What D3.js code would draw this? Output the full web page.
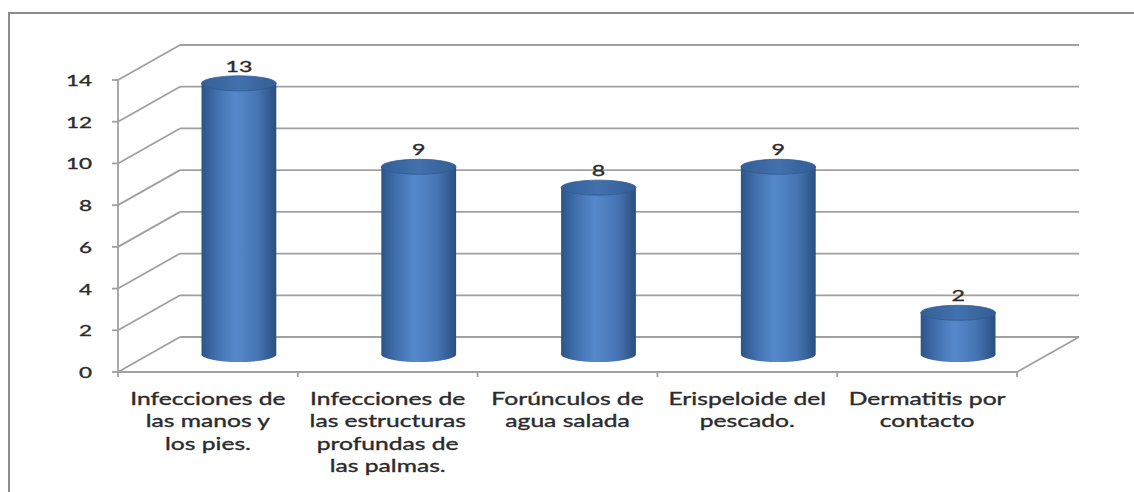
<!DOCTYPE html>
<html>
<head>
<meta charset="utf-8">
<script src="https://cdn.jsdelivr.net/npm/d3@7/dist/d3.min.js"></script>
<style>
  body { margin: 0; background: #fff; }
  svg { display: block; }
  text { font-family: Lato, 'Open Sans', sans-serif; fill: #2b2b2b; stroke: #2b2b2b; stroke-width: 0.35px; }
</style>
</head>
<body>
<svg id="chart"></svg>
<script>
// chart data
const categories = [
  ["Infecciones de", "las manos y", "los pies."],
  ["Infecciones de", "las estructuras", "profundas de", "las palmas."],
  ["Forúnculos de", "agua salada"],
  ["Erispeloide del", "pescado."],
  ["Dermatitis por", "contacto"]
];
const values = [13, 9, 8, 9, 2];
const yTicks = [0, 2, 4, 6, 8, 10, 12, 14];

const width = 1134, height = 492;
const depthX = 62, depthY = -35;   // 3d offset of the back wall
const stretch = 1.45;              // text in the picture is widened
const gridColor = "#a0a0a0";
const gridWidth = 1.8;

const svg = d3.select("#chart")
  .attr("width", width)
  .attr("height", height);

// gradient for the cylinder body
const defs = svg.append("defs");
const grad = defs.append("linearGradient")
  .attr("id", "cyl")
  .attr("x1", "0%").attr("x2", "100%").attr("y1", "0%").attr("y2", "0%");
grad.append("stop").attr("offset", "0%").attr("stop-color", "#2c5488");
grad.append("stop").attr("offset", "18%").attr("stop-color", "#3f6dab");
grad.append("stop").attr("offset", "45%").attr("stop-color", "#5689cc");
grad.append("stop").attr("offset", "75%").attr("stop-color", "#4674b3");
grad.append("stop").attr("offset", "100%").attr("stop-color", "#2a4f80");

const topGrad = defs.append("linearGradient")
  .attr("id", "cyltop")
  .attr("x1", "0%").attr("x2", "100%").attr("y1", "0%").attr("y2", "0%");
topGrad.append("stop").attr("offset", "0%").attr("stop-color", "#345f98");
topGrad.append("stop").attr("offset", "50%").attr("stop-color", "#4271ad");
topGrad.append("stop").attr("offset", "100%").attr("stop-color", "#335d95");

// outer frame (runs off the right and bottom edges)
svg.append("rect")
  .attr("x", 9).attr("y", 13)
  .attr("width", 1300).attr("height", 700)
  .attr("fill", "none")
  .attr("stroke", "#8c8c8c")
  .attr("stroke-width", 2);

// scales
const x = d3.scaleBand()
  .domain(d3.range(categories.length))
  .range([118, 1017])
  .padding(0);

const y = d3.scaleLinear()
  .domain([0, 14])
  .range([372, 80]);

const x0 = x.range()[0], x1 = x.range()[1];

// side wall diagonals
svg.append("g").selectAll("line")
  .data(yTicks)
  .enter()
  .append("line")
  .attr("x1", x0).attr("y1", d => y(d))
  .attr("x2", x0 + depthX).attr("y2", d => y(d) + depthY)
  .attr("stroke", gridColor)
  .attr("stroke-width", gridWidth);

// back wall gridlines
svg.append("g").selectAll("line")
  .data(yTicks)
  .enter()
  .append("line")
  .attr("x1", x0 + depthX).attr("y1", d => y(d) + depthY)
  .attr("x2", x1 + depthX).attr("y2", d => y(d) + depthY)
  .attr("stroke", gridColor)
  .attr("stroke-width", gridWidth);

// floor front edge and right edge
svg.append("line")
  .attr("x1", x0).attr("y1", y(0))
  .attr("x2", x1).attr("y2", y(0))
  .attr("stroke", gridColor).attr("stroke-width", gridWidth);
svg.append("line")
  .attr("x1", x1).attr("y1", y(0))
  .attr("x2", x1 + depthX).attr("y2", y(0) + depthY)
  .attr("stroke", gridColor).attr("stroke-width", gridWidth);

// front y axis
svg.append("line")
  .attr("x1", x0).attr("y1", y(14))
  .attr("x2", x0).attr("y2", y(0))
  .attr("stroke", gridColor).attr("stroke-width", gridWidth);

svg.append("g").selectAll("line")
  .data(yTicks)
  .enter()
  .append("line")
  .attr("x1", x0 - 6).attr("x2", x0)
  .attr("y1", d => y(d)).attr("y2", d => y(d))
  .attr("stroke", gridColor).attr("stroke-width", gridWidth);

// x tick marks at the band edges
const edges = d3.range(categories.length).map(i => x(i)).concat([x1]);
svg.append("g").selectAll("line")
  .data(edges)
  .enter()
  .append("line")
  .attr("x1", d => d).attr("x2", d => d)
  .attr("y1", y(0)).attr("y2", y(0) + 5)
  .attr("stroke", gridColor).attr("stroke-width", gridWidth);

// y tick labels
svg.append("g").selectAll("text")
  .data(yTicks)
  .enter()
  .append("text")
  .attr("transform", d => `translate(92, ${y(d)}) scale(${stretch},1)`)
  .attr("text-anchor", "end")
  .attr("dominant-baseline", "central")
  .style("font-size", "15.5px")
  .text(d => d);

// cylinders
const rx = x.bandwidth() * 0.208;
const ry = 7.5;
const cx = i => x(i) + x.bandwidth() / 2 + depthX / 2;
const baseY = y(0) + depthY / 2;

const bars = svg.append("g").selectAll("g")
  .data(values)
  .enter()
  .append("g");

bars.append("path")
  .attr("d", (d, i) => {
    const top = y(d) + depthY / 2;
    return `M${cx(i) - rx},${top} L${cx(i) - rx},${baseY}` +
      ` A${rx},${ry} 0 0 0 ${cx(i) + rx},${baseY}` +
      ` L${cx(i) + rx},${top} Z`;
  })
  .attr("fill", "url(#cyl)");

bars.append("ellipse")
  .attr("cx", (d, i) => cx(i))
  .attr("cy", d => y(d) + depthY / 2)
  .attr("rx", rx)
  .attr("ry", ry)
  .attr("fill", "url(#cyltop)")
  .attr("stroke", "#2f5a8f")
  .attr("stroke-width", 0.8);

// value labels
bars.append("text")
  .attr("transform", (d, i) => `translate(${cx(i)}, ${y(d) + depthY / 2 - ry - 4}) scale(${stretch},1)`)
  .attr("text-anchor", "middle")
  .style("font-size", "16px")
  .text(d => d);

// category labels
const catG = svg.append("g").selectAll("text")
  .data(categories)
  .enter()
  .append("text")
  .attr("transform", (d, i) => `translate(${x(i) + x.bandwidth() / 2}, 405) scale(${stretch},1)`)
  .attr("text-anchor", "middle")
  .style("font-size", "17px");

catG.selectAll("tspan")
  .data(d => d)
  .enter()
  .append("tspan")
  .attr("x", 0)
  .attr("y", (d, i) => i * 22.5)
  .text(d => d);
</script>
</body>
</html>
